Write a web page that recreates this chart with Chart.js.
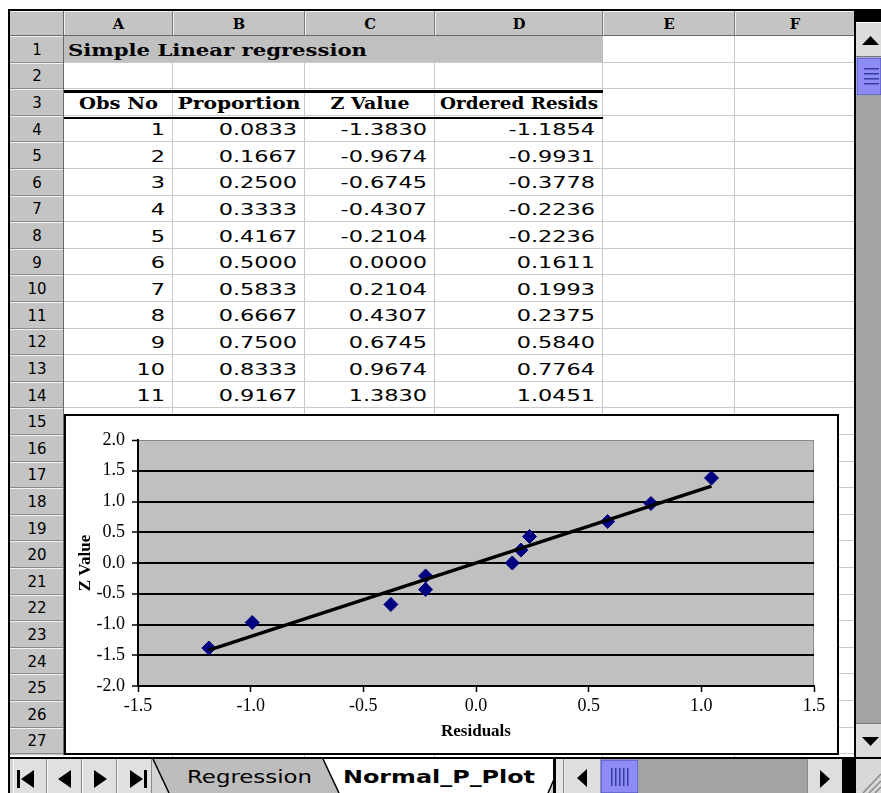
<!DOCTYPE html>
<html>
<head>
<meta charset="utf-8">
<title>Normal_P_Plot</title>
<script src="https://cdn.jsdelivr.net/npm/chart.js@4.4.1/dist/chart.umd.min.js"></script>
<style>
  html, body { margin: 0; padding: 0; background: #fff; }
  #win { position: relative; width: 881px; height: 793px; overflow: hidden; background: #fff; }
  #sheet { position: absolute; left: 0; top: 0; }
  #plot { position: absolute; left: 66px; top: 416px; }
</style>
</head>
<body>
<div id="win">
  <svg id="sheet" width="881" height="793" xmlns="http://www.w3.org/2000/svg"></svg>
  <canvas id="plot" width="771" height="337"></canvas>
</div>
<script>
// Worksheet data
const obsNo = [1, 2, 3, 4, 5, 6, 7, 8, 9, 10, 11];
const proportion = [0.0833, 0.1667, 0.2500, 0.3333, 0.4167, 0.5000, 0.5833, 0.6667, 0.7500, 0.8333, 0.9167];
const zValues = [-1.3830, -0.9674, -0.6745, -0.4307, -0.2104, 0.0000, 0.2104, 0.4307, 0.6745, 0.9674, 1.3830];
const orderedResids = [-1.1854, -0.9931, -0.3778, -0.2236, -0.2236, 0.1611, 0.1993, 0.2375, 0.5840, 0.7764, 1.0451];

const sheetTitle = 'Simple Linear regression';
const columnLetters = ['A', 'B', 'C', 'D', 'E', 'F'];
const headerLabels = ['Obs No', 'Proportion', 'Z Value', 'Ordered Resids'];
const sheetTabs = ['Regression', 'Normal_P_Plot'];

// Chart axes
const xTickValues = [-1.5, -1.0, -0.5, 0.0, 0.5, 1.0, 1.5];
const yTickValues = [-2.0, -1.5, -1.0, -0.5, 0.0, 0.5, 1.0, 1.5, 2.0];
const xAxisTitle = 'Residuals';
const yAxisTitle = 'Z Value';

// ---------- worksheet grid (SVG) ----------
const NS = 'http://www.w3.org/2000/svg';
const svg = document.getElementById('sheet');
function el(tag, attrs) {
  const e = document.createElementNS(NS, tag);
  for (const k in attrs) e.setAttribute(k, attrs[k]);
  svg.appendChild(e);
  return e;
}
function rect(x, y, w, h, fill, extra) {
  return el('rect', Object.assign({ x, y, width: w, height: h, fill }, extra || {}));
}
function poly(points, fill) {
  return el('polygon', { points: points.map(p => p.join(',')).join(' '), fill });
}
function seg(x1, y1, x2, y2, stroke, w) {
  return el('line', { x1, y1, x2, y2, stroke, 'stroke-width': w });
}
function txt(str, x, y, o) {
  const a = {
    x: 0, y: 0,
    'font-family': o.family, 'font-size': o.size,
    'font-weight': o.weight || 'normal',
    'text-anchor': o.anchor || 'start',
    fill: o.fill || '#000',
    transform: `translate(${x},${y}) scale(${o.sx || 1},1)`
  };
  if (o.len) { a.textLength = o.len; a.lengthAdjust = 'spacingAndGlyphs'; }
  const t = el('text', a);
  t.textContent = str;
  return t;
}

const COL_X = [10, 64, 173, 305, 435, 603, 735, 855];
const ROW_Y0 = 36, ROW_H = 26.6, N_ROWS = 27;
const rowTop = r => ROW_Y0 + (r - 1) * ROW_H;
const rowMid = r => rowTop(r) + ROW_H / 2;
const colMid = c => (COL_X[c + 1] + COL_X[c + 2]) / 2;

rect(0, 0, 881, 793, '#fff');

// cell gridlines
for (let r = 1; r <= N_ROWS; r++) rect(64, Math.round(rowTop(r + 1)) - 1, 791, 1, '#c9c9c9');
for (let i = 2; i <= 6; i++) rect(COL_X[i] - 1, ROW_Y0, 1, 722, '#c9c9c9');

// window frame
rect(8, 9, 873, 2, '#000');
rect(8, 9, 2, 784, '#000');

// column headings
rect(10, 11, 845, ROW_Y0 - 11, '#c4c4c4');
rect(10, 11, 845, 1, '#f6f6f6');
rect(10, ROW_Y0 - 1, 845, 1, '#6a6a6a');
for (let i = 1; i < COL_X.length - 1; i++) {
  rect(COL_X[i] - 1, 11, 1, ROW_Y0 - 11, '#7a7a7a');
  rect(COL_X[i], 12, 1, ROW_Y0 - 13, '#efefef');
}
columnLetters.forEach((L, c) => {
  txt(L, colMid(c), 29, { family: 'DejaVu Serif', size: 14, weight: 'bold', anchor: 'middle', sx: 1.05 });
});

// row headings
rect(10, ROW_Y0, 54, N_ROWS * ROW_H + 1, '#c4c4c4');
for (let r = 1; r <= N_ROWS; r++) {
  const y0 = Math.round(rowTop(r)), y1 = Math.round(rowTop(r + 1));
  rect(10, y0, 53, 1, '#f2f2f2');
  rect(10, y1 - 1, 53, 1, '#8a8a8a');
  txt(String(r), 37, rowMid(r) + 5.5, { family: 'DejaVu Sans', size: 15, anchor: 'middle' });
}
rect(63, 11, 1, N_ROWS * ROW_H + ROW_Y0 - 10, '#6a6a6a');

// title row
rect(64, Math.round(rowTop(1)), 539, Math.round(ROW_H) - 1, '#c0c0c0');
txt(sheetTitle, 68, rowMid(1) + 7, { family: 'DejaVu Serif', size: 17, weight: 'bold', len: 299 });

// heading row with rules above and below
const headerWidths = [79, 123, 79, 158];
headerLabels.forEach((h, c) => {
  txt(h, colMid(c), rowMid(3) + 6.5, { family: 'DejaVu Serif', size: 16, weight: 'bold', anchor: 'middle', len: headerWidths[c] });
});
rect(64, Math.round(rowTop(3)) + 1, 539, 3, '#000');
rect(64, Math.round(rowTop(4)) + 1, 539, 2, '#000');

// data rows
obsNo.forEach((n, i) => {
  const r = 4 + i;
  const cells = [String(n), proportion[i].toFixed(4), zValues[i].toFixed(4), orderedResids[i].toFixed(4)];
  cells.forEach((s, c) => {
    txt(s, COL_X[c + 2] - 8, rowMid(r) + 6, { family: 'DejaVu Sans', size: 16, anchor: 'end', sx: 1.4 });
  });
});

// embedded chart frame
rect(65, 415, 773, 339, '#fff', { stroke: '#000', 'stroke-width': 2 });

// vertical scroll bar
rect(854, 9, 2, 750, '#000');
rect(856, 9, 25, 13, '#000');
rect(856, 22, 25, 35, '#dcdcdc');
rect(856, 22, 25, 1, '#fff');
rect(856, 56, 25, 1, '#7a7a7a');
poly([[862, 45], [879, 45], [870.5, 36]], '#000');
rect(857, 58, 24, 37, '#8c8cf4', { stroke: '#4a4ab8', 'stroke-width': 1 });
[68, 73, 78, 83].forEach(y => rect(864, y, 15, 1.5, '#3a3aa4'));
rect(856, 95, 25, 628, '#a3a3a3');
rect(856, 723, 25, 34, '#dcdcdc');
rect(856, 723, 25, 1, '#7a7a7a');
poly([[862, 737], [879, 737], [870.5, 746]], '#000');

// sheet tab bar
rect(8, 757, 873, 2, '#000');
rect(10, 759, 846, 34, '#d4d4d4');
[[13, 47], [47, 82], [82, 117], [117, 152]].forEach(([a, b]) => {
  rect(a, 759, b - a, 34, '#e0e0e0');
  rect(a, 759, 1, 34, '#fafafa');
  rect(b - 1, 759, 1, 34, '#8a8a8a');
});
rect(17, 770, 3, 18, '#000');
poly([[21, 779], [34, 770], [34, 788]], '#000');
poly([[58, 779], [71, 770], [71, 788]], '#000');
poly([[94, 770], [94, 788], [107, 779]], '#000');
poly([[130, 770], [130, 788], [143, 779]], '#000');
rect(144, 770, 3, 18, '#000');

poly([[153, 759], [330, 759], [345, 793], [169, 793]], '#bdbdbd');
seg(153, 759, 169, 793, '#000', 1.5);
poly([[323, 759], [556, 759], [556, 775], [548, 793], [339, 793]], '#fff');
seg(323, 759, 339, 793, '#000', 1.5);
seg(548, 793, 555, 777, '#000', 1.5);
txt(sheetTabs[0], 187, 783, { family: 'DejaVu Sans', size: 18, len: 125 });
txt(sheetTabs[1], 343, 783, { family: 'DejaVu Sans', size: 17, weight: 'bold', len: 192 });

// horizontal scroll bar
rect(553, 759, 3, 34, '#000');
rect(556, 759, 9, 34, '#e6e6e6');
rect(563, 759, 1, 34, '#8a8a8a');
rect(565, 759, 35, 34, '#dedede');
poly([[577, 778], [587, 769], [587, 787]], '#000');
rect(601, 760, 37, 33, '#8c8cf4', { stroke: '#4a4ab8', 'stroke-width': 1 });
[611, 615, 619, 623, 627].forEach(x => rect(x, 768, 1.5, 18, '#3a3aa4'));
rect(638, 759, 169, 34, '#a3a3a3');
rect(807, 759, 35, 34, '#dedede');
rect(807, 759, 1, 34, '#8a8a8a');
poly([[820, 770], [820, 788], [830, 779]], '#000');
rect(842, 759, 14, 34, '#000');
rect(856, 759, 25, 34, '#d8d8d8');
[[863, 793, 881, 774], [869, 793, 881, 781], [875, 793, 881, 787]].forEach(([a, b, c, d]) => seg(a, b, c, d, '#8a8a8a', 1.5));

// ---------- normal probability plot (Chart.js) ----------
const points = orderedResids.map((x, i) => ({ x, y: zValues[i] }));

// least-squares trend line through the plotted points
function leastSquares(xs, ys) {
  const n = xs.length;
  const mx = xs.reduce((s, v) => s + v, 0) / n;
  const my = ys.reduce((s, v) => s + v, 0) / n;
  let sxy = 0, sxx = 0;
  for (let i = 0; i < n; i++) { sxy += (xs[i] - mx) * (ys[i] - my); sxx += (xs[i] - mx) ** 2; }
  const m = sxy / sxx;
  return { m, b: my - m * mx };
}
const fit = leastSquares(orderedResids, zValues);
const xLo = Math.min(...orderedResids), xHi = Math.max(...orderedResids);
const trend = [xLo, xHi].map(x => ({ x, y: fit.m * x + fit.b }));

const plotBackground = {
  id: 'plotBackground',
  beforeDraw(chart) {
    const { ctx, chartArea: a } = chart;
    ctx.save();
    ctx.fillStyle = '#c0c0c0';
    ctx.fillRect(a.left, a.top, a.right - a.left, a.bottom - a.top);
    ctx.strokeStyle = '#8a8a8a';
    ctx.lineWidth = 1;
    ctx.beginPath();
    ctx.moveTo(a.left, a.top + 0.5);
    ctx.lineTo(a.right - 0.5, a.top + 0.5);
    ctx.lineTo(a.right - 0.5, a.bottom);
    ctx.stroke();
    ctx.restore();
  }
};

const tickFont = { family: 'Liberation Serif', size: 18 };
const titleFontX = { family: 'Liberation Serif', size: 17, weight: 'bold' };
const titleFontY = { family: 'Liberation Serif', size: 17, weight: 'bold' };

new Chart(document.getElementById('plot'), {
  type: 'scatter',
  data: {
    datasets: [
      {
        type: 'line',
        label: 'Linear trend',
        data: trend,
        borderColor: '#000',
        borderWidth: 3.5,
        pointRadius: 0,
        fill: false,
        order: 0
      },
      {
        label: yAxisTitle,
        data: points,
        pointStyle: 'rectRot',
        pointRadius: 7,
        backgroundColor: '#000080',
        borderColor: '#000080',
        borderWidth: 1,
        order: 1
      }
    ]
  },
  options: {
    responsive: false,
    animation: false,
    devicePixelRatio: 1,
    layout: { padding: { left: 0, top: 24, right: 23, bottom: 0 } },
    plugins: { legend: { display: false }, tooltip: { enabled: false } },
    scales: {
      x: {
        type: 'linear',
        min: xTickValues[0],
        max: xTickValues[xTickValues.length - 1],
        afterBuildTicks: s => { s.ticks = xTickValues.map(value => ({ value })); },
        afterFit: s => { s.height = 67; },
        grid: { drawOnChartArea: false, drawTicks: true, tickLength: 6, tickColor: '#000', tickWidth: 1.5 },
        border: { display: true, color: '#000', width: 2 },
        ticks: {
          color: '#000', font: tickFont, padding: 3, maxRotation: 0, autoSkip: false,
          callback: v => Number(v).toFixed(1)
        },
        title: { display: true, text: xAxisTitle, color: '#000', font: titleFontX, padding: { top: 0, bottom: 11 } }
      },
      y: {
        type: 'linear',
        min: yTickValues[0],
        max: yTickValues[yTickValues.length - 1],
        afterBuildTicks: s => { s.ticks = yTickValues.map(value => ({ value })); },
        afterFit: s => { s.width = 72; },
        grid: {
          drawOnChartArea: true, drawTicks: true, tickLength: 6, tickColor: '#000', tickWidth: 1.5,
          color: c => (c.tick && c.tick.value === yTickValues[yTickValues.length - 1]) ? '#8a8a8a' : '#000',
          lineWidth: c => (c.tick && c.tick.value === yTickValues[yTickValues.length - 1]) ? 1 : 2
        },
        border: { display: true, color: '#000', width: 2 },
        ticks: {
          color: '#000', font: tickFont, padding: 7, autoSkip: false,
          callback: v => Number(v).toFixed(1)
        },
        title: { display: true, text: yAxisTitle, color: '#000', font: titleFontY, padding: { top: 9, bottom: 0 } }
      }
    }
  },
  plugins: [plotBackground]
});
</script>
</body>
</html>
